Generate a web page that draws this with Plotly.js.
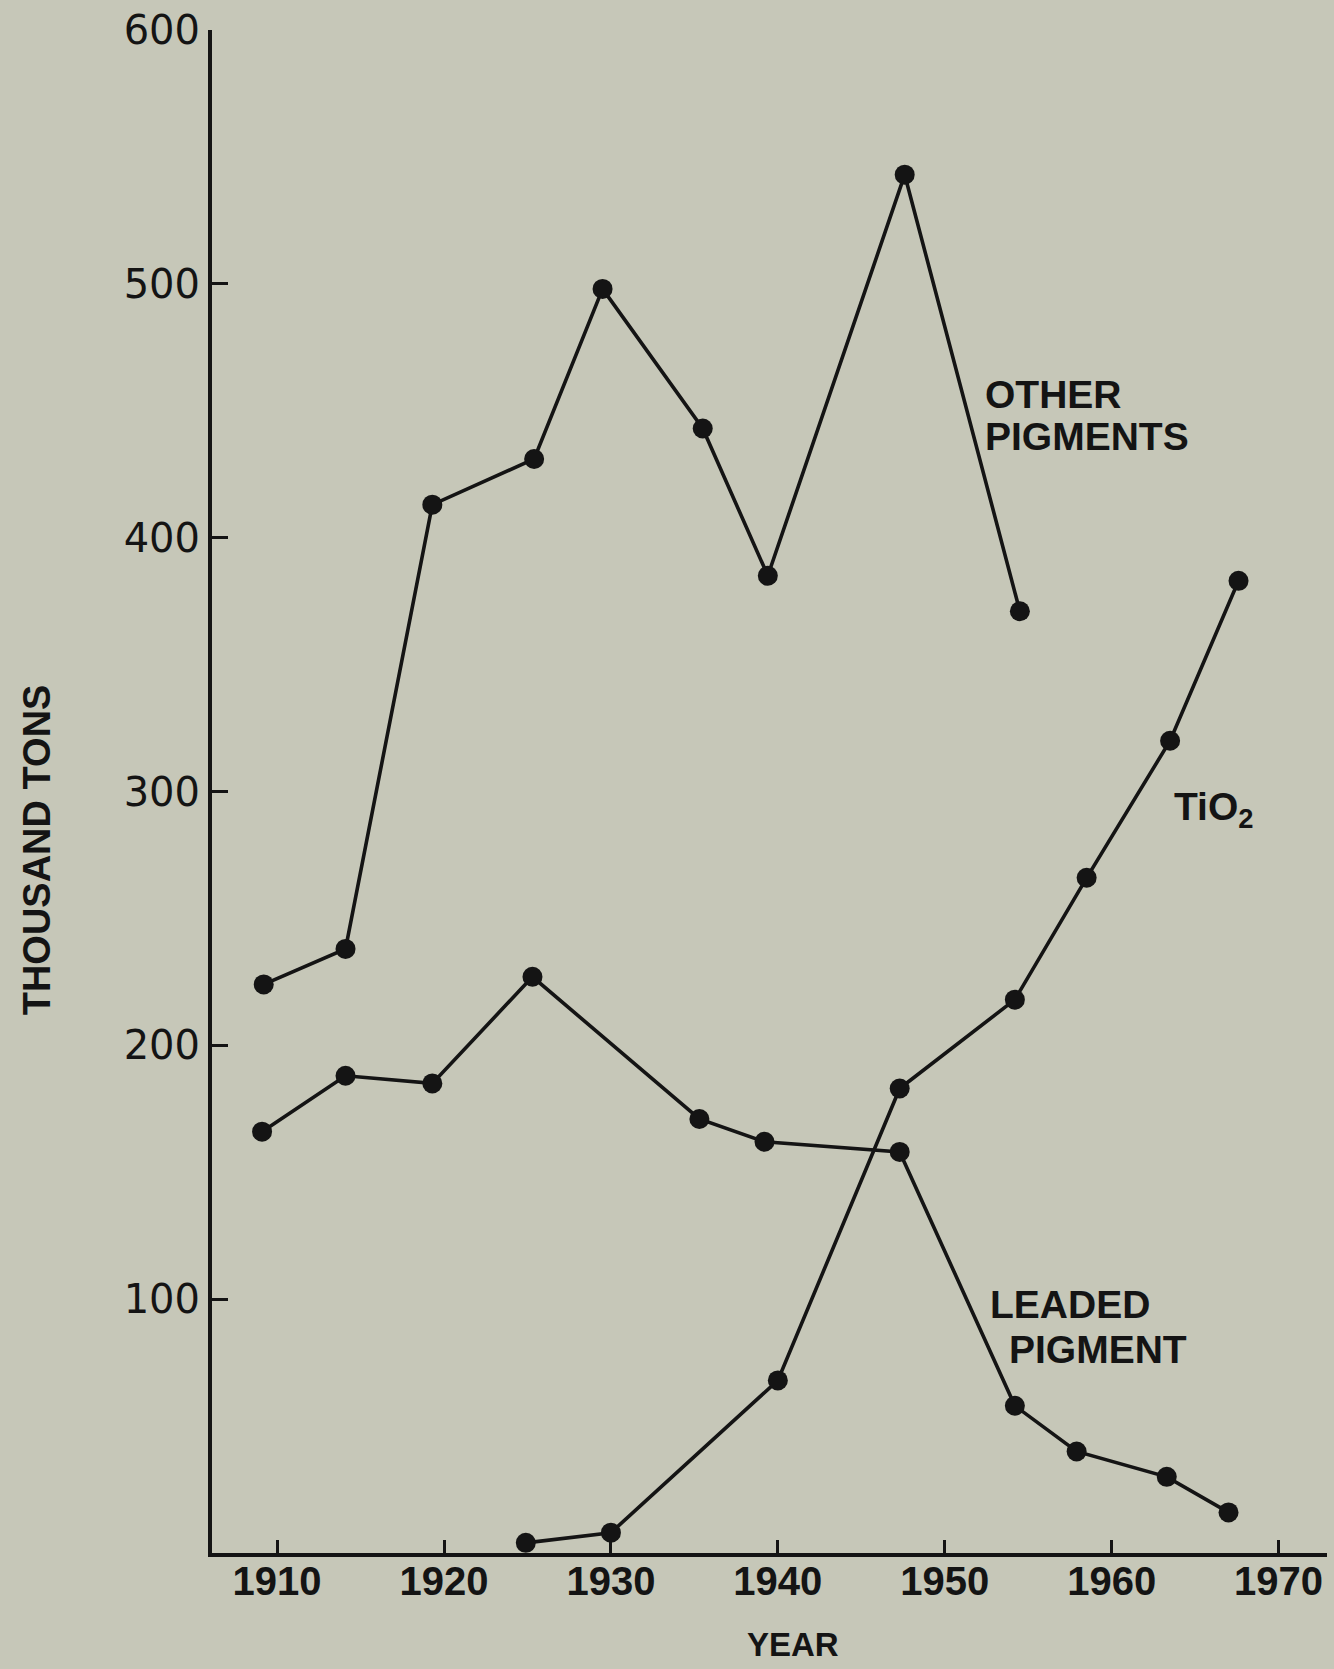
<!DOCTYPE html>
<html>
<head>
<meta charset="utf-8">
<script src="https://cdn.plot.ly/plotly-3.0.1.min.js"></script>
<style>
  html, body { margin: 0; padding: 0; background: #c6c7b8; }
  #chart { width: 1334px; height: 1669px; }
</style>
</head>
<body>
<div id="chart"></div>
<script>
// Other pigments
const otherYears = [1909.2, 1914.1, 1919.3, 1925.4, 1929.5, 1935.5, 1939.4, 1947.6, 1954.5];
const otherValues = [224, 238, 413, 431, 498, 443, 385, 543, 371];

// Leaded pigment
const leadYears = [1909.1, 1914.1, 1919.3, 1925.3, 1935.3, 1939.2, 1947.3, 1954.2, 1957.9, 1963.3, 1967.0];
const leadValues = [166, 188, 185, 227, 171, 162, 158, 58, 40, 30, 16];

// TiO2
const tioYears = [1924.9, 1930.0, 1940.0, 1947.3, 1954.2, 1958.5, 1963.5, 1967.6];
const tioValues = [4, 8, 68, 183, 218, 266, 320, 383];

const xTickVals = [1910, 1920, 1930, 1940, 1950, 1960, 1970];
const xTickText = ['1910', '1920', '1930', '1940', '1950', '1960', '1970'];
const yTickVals = [100, 200, 300, 400, 500, 600];
const yTickText = ['100', '200', '300', '400', '500', '600'];

const ink = '#141414';
const bg = '#c6c7b8';

function series(x, y, name) {
  return {
    x: x, y: y, name: name, type: 'scatter', mode: 'lines+markers',
    line: { color: ink, width: 3.6 },
    marker: { color: ink, size: 20 },
    cliponaxis: false,
    hoverinfo: 'skip'
  };
}

const data = [
  series(otherYears, otherValues, 'OTHER PIGMENTS'),
  series(leadYears, leadValues, 'LEADED PIGMENT'),
  series(tioYears, tioValues, 'TiO2')
];

const labelFont = { family: 'Liberation Sans, Arial, sans-serif', size: 39, color: ink, weight: 'bold' };

function label(text, x, y) {
  return { text: text, x: x, y: y, xref: 'x', yref: 'y',
    xanchor: 'left', yanchor: 'middle', align: 'left', showarrow: false, font: labelFont };
}

const layout = {
  width: 1334, height: 1669,
  paper_bgcolor: bg, plot_bgcolor: bg,
  showlegend: false,
  margin: { l: 212, r: 7, t: 30, b: 116 },
  xaxis: {
    range: [1906.1, 1972.9],
    tickvals: xTickVals, ticktext: xTickText,
    showgrid: false, zeroline: false,
    showline: true, linecolor: ink, linewidth: 4,
    ticks: 'inside', ticklen: 13, tickwidth: 3, tickcolor: ink,
    tickfont: { family: 'Liberation Sans, Arial, sans-serif', size: 40, color: ink, weight: 'bold' },
    ticklabelstandoff: -10,
    fixedrange: true
  },
  yaxis: {
    range: [0, 600],
    tickvals: yTickVals, ticktext: yTickText,
    showgrid: false, zeroline: false,
    showline: true, linecolor: ink, linewidth: 4,
    ticks: 'inside', ticklen: 16, tickwidth: 3, tickcolor: ink,
    tickfont: { family: 'DejaVu Sans, sans-serif', size: 40, color: ink },
    ticklabelstandoff: 0,
    fixedrange: true
  },
  annotations: [
    { text: 'THOUSAND TONS', xref: 'paper', yref: 'paper', x: -0.157, y: 0.462,
      xanchor: 'center', yanchor: 'middle', textangle: -90, showarrow: false,
      font: { family: 'Liberation Sans, Arial, sans-serif', size: 38, color: ink, weight: 'bold' } },
    { text: 'YEAR', xref: 'paper', yref: 'paper', x: 0.521, y: -0.0604,
      xanchor: 'center', yanchor: 'middle', showarrow: false,
      font: { family: 'Liberation Sans, Arial, sans-serif', size: 33, color: ink, weight: 'bold' } },
    label('OTHER', 1952.3, 456.5),
    label('PIGMENTS', 1952.3, 440),
    label('TiO<sub>2</sub>', 1963.6, 293),
    label('LEADED', 1952.6, 98),
    label('PIGMENT', 1953.7, 80)
  ]
};

Plotly.newPlot('chart', data, layout, { displayModeBar: false, staticPlot: true });
</script>
</body>
</html>
